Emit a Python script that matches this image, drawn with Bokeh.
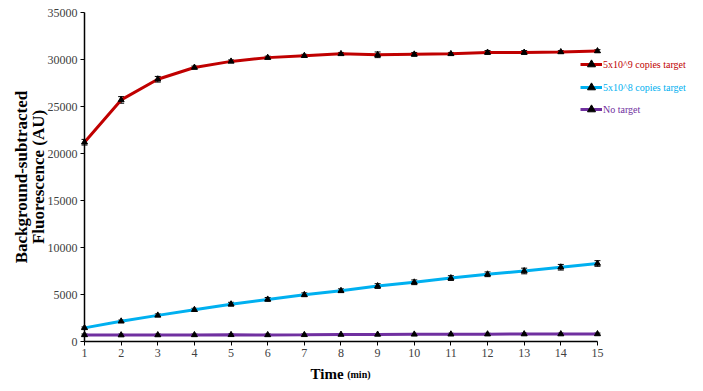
from bokeh.plotting import figure
from bokeh.models import Legend, LegendItem, Label, Range1d, Whisker, ColumnDataSource, FixedTicker, TeeHead
from bokeh.embed import file_html
from bokeh.resources import INLINE

time = list(range(1, 16))
high = [21200, 25700, 27900, 29150, 29800, 30200, 30400, 30600, 30500, 30550, 30600, 30750, 30750, 30800, 30900]
high_err = [300, 350, 300, 150, 150, 150, 150, 150, 300, 200, 150, 200, 200, 150, 150]
mid = [1450, 2150, 2780, 3380, 3970, 4480, 4970, 5400, 5900, 6300, 6750, 7150, 7500, 7900, 8300]
mid_err = [100, 120, 150, 150, 200, 200, 200, 200, 250, 250, 250, 250, 300, 300, 300]
none = [700, 680, 690, 700, 710, 700, 710, 740, 750, 760, 770, 780, 790, 790, 800]
none_err = [100] * 15
names = ["5x10^9 copies target", "5x10^8 copies target", "No target"]
colors = ["#C00000", "#00B0F0", "#7030A0"]
series = [high, mid, none]
errs = [high_err, mid_err, none_err]
y_ticks = [0, 5000, 10000, 15000, 20000, 25000, 30000, 35000]

FONT = "Liberation Serif"

# the frame covers the whole canvas; both axes sit at fixed data locations
p = figure(width=703, height=391, output_backend="svg", toolbar_location=None,
           x_range=Range1d(-1.2926, 17.894), y_range=Range1d(-5319, 36277),
           min_border_left=0, min_border_right=0, min_border_top=0, min_border_bottom=0)
p.outline_line_color = None
p.grid.visible = False

renderers = []
for ys, es, c in zip(series, errs, colors):
    src = ColumnDataSource(dict(x=time, y=ys, lo=[a - b for a, b in zip(ys, es)], hi=[a + b for a, b in zip(ys, es)]))
    l = p.line("x", "y", source=src, line_color=c, line_width=3)
    p.add_layout(Whisker(base="x", lower="lo", upper="hi", source=src, line_color="black", line_width=1,
                         upper_head=TeeHead(size=6, line_color="black", line_width=1),
                         lower_head=TeeHead(size=6, line_color="black", line_width=1)))
    s = p.scatter("x", "y", source=src, marker="triangle", size=6, fill_color="black", line_color="black")
    renderers.append((l, s))

for ax in (p.xaxis[0], p.yaxis[0]):
    ax.axis_line_color = "black"
    ax.axis_line_width = 1.5
    ax.major_tick_line_color = "black"
    ax.major_tick_out = 4
    ax.major_tick_in = 0
    ax.minor_tick_line_color = None
    ax.major_label_text_font = FONT
    ax.major_label_text_font_size = "12px"
    ax.major_label_text_color = "#404040"
    ax.major_label_standoff = 3

p.xaxis.bounds = (1, 15)
p.xaxis.fixed_location = 0
p.xaxis.ticker = FixedTicker(ticks=time)
p.yaxis.bounds = (0, 35000)
p.yaxis.fixed_location = 1
p.yaxis.ticker = FixedTicker(ticks=y_ticks)
p.yaxis.axis_label = "Background-subtracted\nFluorescence (AU)"
p.yaxis.axis_label_text_font = FONT
p.yaxis.axis_label_text_font_style = "bold"
p.yaxis.axis_label_text_font_size = "17px"
p.yaxis.axis_label_text_line_height = 0.85
p.yaxis.axis_label_text_color = "black"
p.yaxis.axis_label_standoff = -3

p.add_layout(Label(x=8.07, y=-3510, text="Time", text_font=FONT, text_font_style="bold",
                   text_font_size="15px", text_align="right", text_baseline="alphabetic", text_color="black"))
p.add_layout(Label(x=8.17, y=-3510, text="(min)", text_font=FONT, text_font_style="bold",
                   text_font_size="10px", text_align="left", text_baseline="alphabetic", text_color="black"))

ys_leg = [327, 304, 282]
for (l, s), name, c, yl in zip(renderers, names, colors, ys_leg):
    leg = Legend(items=[LegendItem(label=name, renderers=[l, s])], location=(580, yl - 10),
                 label_text_color=c, label_text_font=FONT, label_text_font_size="10px",
                 glyph_width=22, glyph_height=20, padding=0, margin=0, border_line_color=None,
                 background_fill_alpha=0, label_standoff=1)
    p.add_layout(leg)

open("out.html", "w").write(file_html(p, INLINE))
